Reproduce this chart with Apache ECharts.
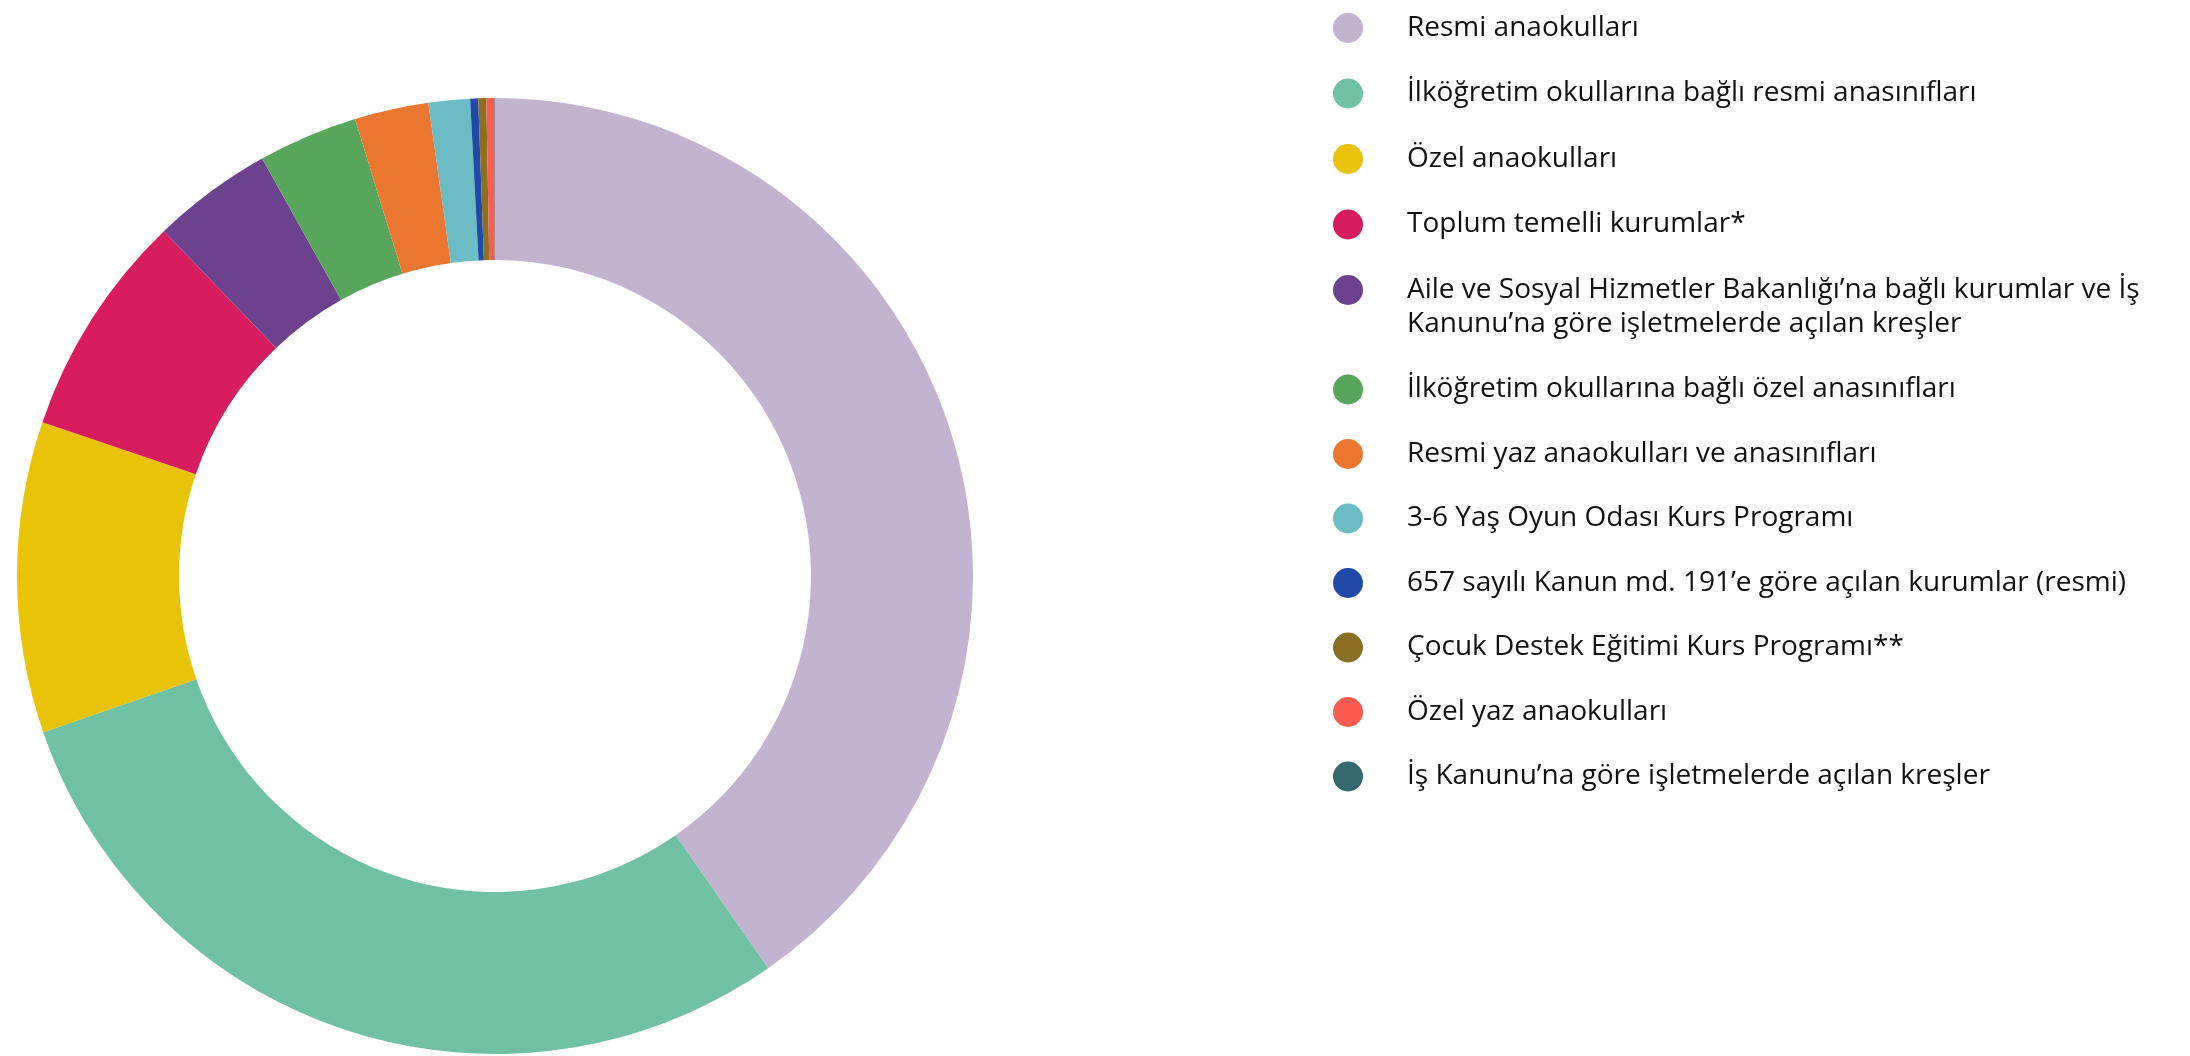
<!DOCTYPE html>
<html>
<head>
<meta charset="utf-8">
<script src="https://cdn.jsdelivr.net/npm/echarts@6/dist/echarts.min.js"></script>
<style>
  html, body { margin: 0; padding: 0; background: #fff; }
  #chart { width: 2190px; height: 1056px; }
</style>
</head>
<body>
<div id="chart"></div>
<script>
// kurum türleri (legend sırası = dilim sırası, saat yönünde tepeden)
const categories = [
  'Resmi anaokulları',
  'İlköğretim okullarına bağlı resmi anasınıfları',
  'Özel anaokulları',
  'Toplum temelli kurumlar*',
  'Aile ve Sosyal Hizmetler Bakanlığı’na bağlı kurumlar ve İş\nKanunu’na göre işletmelerde açılan kreşler',
  'İlköğretim okullarına bağlı özel anasınıfları',
  'Resmi yaz anaokulları ve anasınıfları',
  '3-6 Yaş Oyun Odası Kurs Programı',
  '657 sayılı Kanun md. 191’e göre açılan kurumlar (resmi)',
  'Çocuk Destek Eğitimi Kurs Programı**',
  'Özel yaz anaokulları',
  'İş Kanunu’na göre işletmelerde açılan kreşler'
]
// pay (%), resimden okunan açılardan tahmin
const shares = [40.32, 29.39, 10.51, 7.61, 4.08, 3.37, 2.5, 1.4, 0.27, 0.27, 0.27, 0.02]
const palette = ['#c2b3d1', '#70c1a3', '#e9c308', '#d81d5f', '#6c418e', '#58a55c',
  '#eb7630', '#6bbcc4', '#214aa8', '#8b6f22', '#fc5c50', '#33696f']

const chart = echarts.init(document.getElementById('chart'))

const font = '"Open Sans", "Noto Sans", sans-serif'
const richLine = {fontFamily: font, fontSize: 28, lineHeight: 34, color: '#111'}
const legendBase = {
  orient: 'vertical',
  left: 1333,
  padding: 0,
  itemWidth: 30,
  itemHeight: 30,
  icon: 'circle',
  textStyle: {
    fontFamily: font,
    fontSize: 28,
    lineHeight: 32,
    color: '#111',
    padding: [0, 0, 0, 39]
  }
}

const option = {
  backgroundColor: '#fff',
  animation: false,
  legend: [
    Object.assign({}, legendBase, {
      top: 12,
      itemGap: 33.5,
      data: categories.slice(0, 4)
    }),
    Object.assign({}, legendBase, {
      top: 239,
      itemGap: 32.5,
      data: categories.slice(4),
      // iki satırlı öğe: boş bir üst satırla ikon ilk satıra hizalanır
      formatter: name => name.indexOf('\n') < 0
        ? name
        : '{s| }\n{a|' + name.split('\n').join('}\n{a|') + '}',
      textStyle: Object.assign({}, legendBase.textStyle, {
        rich: {a: richLine, s: richLine}
      })
    })
  ],
  series: [
    {
      type: 'pie',
      center: [495, 576],
      radius: [316, 478],
      startAngle: 90,
      clockwise: true,
      label: {show: false},
      labelLine: {show: false},
      emphasis: {scale: false},
      data: categories.map((name, i) => ({
        name: name,
        value: shares[i],
        itemStyle: {color: palette[i]}
      }))
    }
  ]
}

chart.setOption(option)
</script>
</body>
</html>
